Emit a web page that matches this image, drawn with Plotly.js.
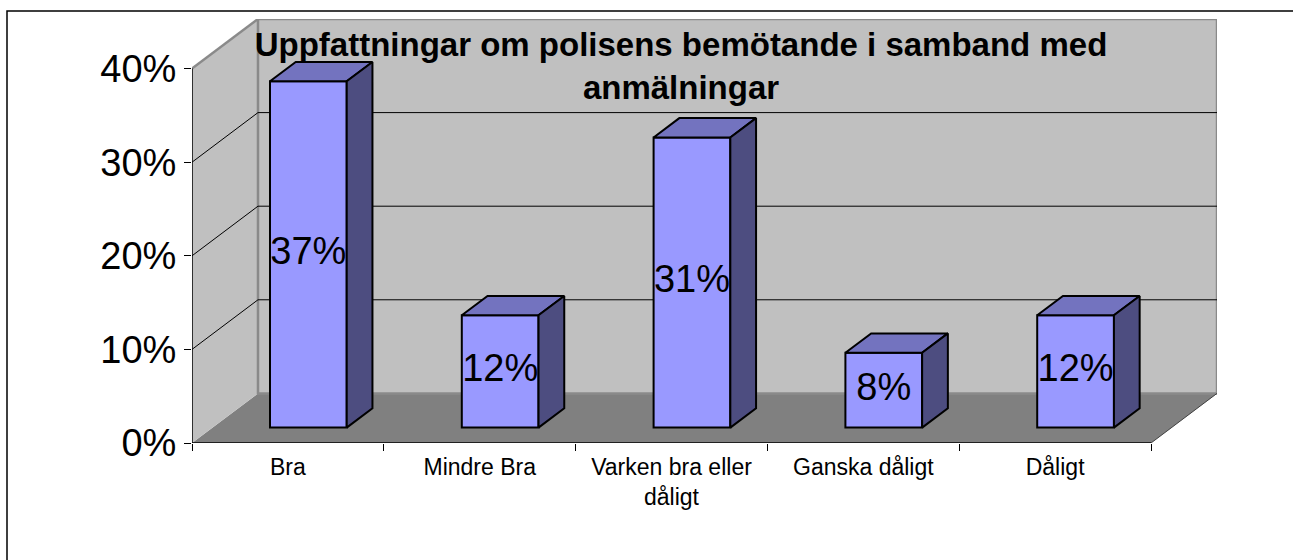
<!DOCTYPE html>
<html>
<head>
<meta charset="utf-8">
<script src="https://cdn.plot.ly/plotly-3.0.1.min.js"></script>
<style>html,body{margin:0;padding:0;background:#fff;}#chart{width:1293px;height:560px;}</style>
</head>
<body>
<div id="chart"></div>
<script>
// ---- data ----
const categories = ['Bra', 'Mindre Bra', 'Varken bra eller<br>dåligt', 'Ganska dåligt', 'Dåligt'];
const values = [37, 12, 31, 8, 12];
const valueLabels = ['37%', '12%', '31%', '8%', '12%'];
const yTickVals = [0, 10, 20, 30, 40];
const yTickText = ['0%', '10%', '20%', '30%', '40%'];
const chartTitle = 'Uppfattningar om polisens bemötande i samband med<br>anmälningar';

// ---- 3D projection geometry (styling, not data) ----
const DX = 0.344;   // depth offset in x units
const DY = 5.3;     // depth offset in y units
const BAR_W = 0.4;
const D0 = 0.31, D1 = 0.70; // bar front/back depth fractions
const YMAX = yTickVals[yTickVals.length - 1];
const N = categories.length;
const xs = categories.map((c, i) => i);
const FONT = 'Liberation Sans, Arial, sans-serif';

const ox0 = D0 * DX, oy0 = D0 * DY, ox1 = D1 * DX, oy1 = D1 * DY;

const traces = [];
// front faces as bars
traces.push({
  type: 'bar',
  x: xs.map(x => x + ox0),
  y: values,
  base: values.map(() => oy0),
  width: BAR_W,
  marker: {color: '#9999FF', line: {color: '#000', width: 2}},
  hoverinfo: 'skip'
});
// top and side faces
values.forEach((v, i) => {
  const xl = xs[i] - BAR_W / 2, xr = xs[i] + BAR_W / 2;
  traces.push({
    type: 'scatter', mode: 'lines', fill: 'toself',
    x: [xl + ox0, xr + ox0, xr + ox1, xl + ox1, xl + ox0],
    y: [v + oy0, v + oy0, v + oy1, v + oy1, v + oy0],
    fillcolor: '#7373BF', line: {color: '#000', width: 2}, hoverinfo: 'skip'
  });
  traces.push({
    type: 'scatter', mode: 'lines', fill: 'toself',
    x: [xr + ox0, xr + ox1, xr + ox1, xr + ox0, xr + ox0],
    y: [oy0, oy1, v + oy1, v + oy0, oy0],
    fillcolor: '#4D4D80', line: {color: '#000', width: 2}, hoverinfo: 'skip'
  });
});
// value labels
traces.push({
  type: 'scatter', mode: 'text',
  x: xs.map(x => x + ox0),
  y: values.map(v => oy0 + v / 2),
  text: valueLabels,
  textposition: 'middle center',
  textfont: {family: FONT, size: 38, color: '#000'},
  hoverinfo: 'skip'
});

// ---- walls / floor / gridlines ----
const L = -0.5, R = N - 0.5;
const shapes = [];
shapes.push({type: 'path', layer: 'below', xref: 'x', yref: 'y',
  path: `M${L},0 L${R},0 L${R + DX},${DY} L${L + DX},${DY} Z`,
  fillcolor: '#808080', line: {width: 0}});
shapes.push({type: 'path', layer: 'below', xref: 'x', yref: 'y',
  path: `M${L},0 L${L + DX},${DY} L${L + DX},${YMAX + DY} L${L},${YMAX} Z`,
  fillcolor: '#C0C0C0', line: {width: 0}});
shapes.push({type: 'rect', layer: 'below', xref: 'x', yref: 'y',
  x0: L + DX, x1: R + DX, y0: DY, y1: YMAX + DY,
  fillcolor: '#C0C0C0', line: {color: '#8A8A8A', width: 2.5}});
yTickVals.forEach(k => {
  if (k === 0 || k === YMAX) return;
  shapes.push({type: 'line', layer: 'below', xref: 'x', yref: 'y',
    x0: L + DX, x1: R + DX, y0: k + DY, y1: k + DY, line: {color: '#000', width: 1}});
  shapes.push({type: 'line', layer: 'below', xref: 'x', yref: 'y',
    x0: L, x1: L + DX, y0: k, y1: k + DY, line: {color: '#000', width: 1}});
});
shapes.push({type: 'line', layer: 'below', xref: 'x', yref: 'y',
  x0: L, x1: L + DX, y0: YMAX, y1: YMAX + DY, line: {color: '#8A8A8A', width: 2.5}});
shapes.push({type: 'line', layer: 'below', xref: 'x', yref: 'y',
  x0: R, x1: R + DX, y0: 0, y1: DY, line: {color: '#404040', width: 1}});
shapes.push({type: 'line', layer: 'below', xref: 'x', yref: 'y',
  x0: L, x1: L, y0: 0, y1: YMAX, line: {color: '#000', width: 1.5}});
shapes.push({type: 'line', layer: 'below', xref: 'x', yref: 'y',
  x0: L, x1: R, y0: 0, y1: 0, line: {color: '#000', width: 1.5}});

// outer chart border (pixel-based via paper coords)
const ML = 192, MR = 76, MT = 19, MB = 117, W = 1293, H = 560;
const PW = W - ML - MR, PH = H - MT - MB;
shapes.push({type: 'rect', layer: 'above', xref: 'paper', yref: 'paper',
  x0: (7 - ML) / PW, x1: (W + 20 - ML) / PW,
  y0: (H - MB - (H + 20)) / PH, y1: (H - MB - 11) / PH,
  line: {color: '#000', width: 1.5}, fillcolor: 'rgba(0,0,0,0)'});

const layout = {
  width: W, height: H,
  margin: {l: ML, r: MR, t: MT, b: MB, pad: 0},
  paper_bgcolor: '#fff', plot_bgcolor: 'rgba(0,0,0,0)',
  showlegend: false, hovermode: false,
  title: {
    text: '<b>' + chartTitle + '</b>',
    font: {family: FONT, size: 33, color: '#000'},
    xref: 'container', x: 681 / W, xanchor: 'center',
    yref: 'container', y: 1 - 56 / H, yanchor: 'top'
  },
  xaxis: {
    range: [L, R + DX], showgrid: false, zeroline: false, showline: false,
    tickmode: 'array', tickvals: xs, ticktext: categories, ticks: '',
    tickfont: {family: FONT, size: 23, color: '#000'},
    ticklabelstandoff: 8,
    minor: {tickmode: 'array', tickvals: xs.concat([N]).map(x => x - 0.5),
      ticks: 'outside', ticklen: 7, tickwidth: 1, tickcolor: '#000', showgrid: false},
    fixedrange: true
  },
  yaxis: {
    range: [0, YMAX + DY], showgrid: false, zeroline: false, showline: false,
    tickmode: 'array', tickvals: yTickVals, ticktext: yTickText,
    ticks: 'outside', ticklen: 7, tickwidth: 1, tickcolor: '#000',
    tickfont: {family: FONT, size: 38, color: '#000'},
    ticklabelstandoff: 0,
    fixedrange: true
  },
  shapes: shapes
};

Plotly.newPlot('chart', traces, layout, {staticPlot: true, displayModeBar: false});
</script>
</body>
</html>
